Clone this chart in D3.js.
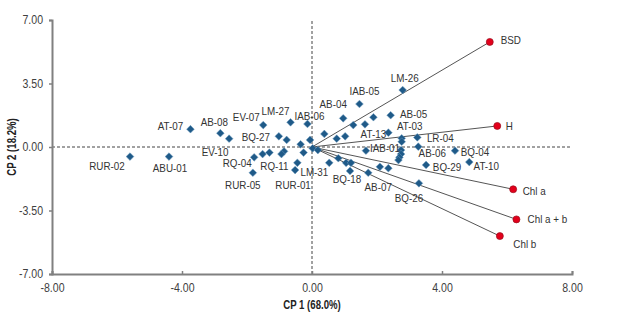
<!DOCTYPE html>
<html lang="en">
<head>
    <title>PCA biplot - CP 1 vs CP 2</title>
    <style>
        body { margin: 0; background: #fff; }
        text { font-family: "Liberation Sans", Arial, sans-serif; }
    </style>
    <script src='https://d3js.org/d3.v7.min.js'></script>
</head>
<body>
    <script>

        // DATA //

        // genotypes (scores) - "" means the point is not labelled
        const names = [
            "RUR-02", "ABU-01", "AT-07", "AB-08", "EV-10", "EV-07", "LM-27", "IAB-06", "", "AB-04",
            "", "", "", "BQ-27", "", "", "", "", "", "",
            "", "RQ-11", "", "", "RQ-04", "RUR-05", "LM-31", "RUR-01", "", "",
            "", "", "BQ-18", "AB-07", "IAB-05", "", "AB-05", "", "AT-13", "AT-03",
            "", "LR-04", "AB-06", "", "IAB-01", "", "", "", "BQ-04", "AT-10",
            "BQ-29", "", "", "BQ-26", "LM-26"
        ];
        const cp1 = [
            -5.60, -4.40, -3.74, -2.82, -2.55, -1.50, -0.66, -0.14, 0.38, 0.96,
            1.27, 1.02, 0.76, -1.02, -0.78, -0.35, -0.06, 0.02, 0.18, -0.26,
            -0.86, -0.94, -1.31, -1.52, -1.78, -1.82, -0.45, -0.52, 0.53, 0.81,
            1.05, 1.20, 1.17, 1.73, 1.46, 1.89, 2.42, 1.63, 2.35, 2.76,
            2.76, 3.24, 3.27, 1.66, 2.74, 2.74, 2.69, 2.66, 4.40, 4.84,
            3.51, 2.09, 2.35, 3.29, 2.79
        ];
        const cp2 = [
            -0.53, -0.53, 0.98, 0.76, 0.46, 1.21, 1.36, 1.27, 0.72, 1.58,
            1.21, 0.59, 0.46, 0.59, 0.39, 0.15, 0.39, -0.07, -0.17, -0.31,
            -0.24, -0.39, -0.31, -0.39, -0.57, -1.42, -0.87, -1.27, -0.87, -0.62,
            -0.87, -0.87, -1.32, -1.42, 2.37, 1.64, 1.75, 1.25, 0.79, 0.48,
            0.29, 0.53, 0.02, -0.20, -0.17, -0.39, -0.57, -0.72, -0.20, -0.83,
            -0.99, -1.09, -1.17, -2.00, 3.14
        ];

        // variables (loadings)
        const varNames = ["BSD", "H", "Chl a", "Chl a + b", "Chl b"];
        const varCp1   = [5.47, 5.70, 6.19, 6.29, 5.78];
        const varCp2   = [5.79, 1.16, -2.33, -3.99, -4.91];

        // tick values
        const xTicks = [-8, -4, 0, 4, 8];
        const yTicks = [-7, -3.5, 0, 3.5, 7];

        // label placement (pixel offset of the text centre from its mark)
        const labelOffset = {
            "RUR-02": [-23, 9], "ABU-01": [1, 11], "AT-07": [-20, -3], "AB-08": [-6, -11],
            "EV-10": [-14, 13], "EV-07": [-17, -8], "LM-27": [-15, -11], "IAB-06": [2, -8],
            "BQ-27": [-23, 1], "RQ-04": [-17, 6], "RQ-11": [-7, 12], "RUR-05": [-10, 12],
            "RUR-01": [-2, 15], "LM-31": [17, 9], "AB-04": [-10, -14], "LM-26": [2, -12],
            "IAB-05": [5, -13], "AB-05": [23, -1], "AT-03": [8, -12], "AT-13": [-15, 1],
            "LR-04": [23, 1], "IAB-01": [-16, -2], "AB-06": [14, 6], "BQ-29": [21, 2],
            "BQ-18": [-3, 8], "AB-07": [10, 14], "BQ-26": [-10, 15], "BQ-04": [20, 1],
            "AT-10": [17, 4], "BSD": [21, -2], "H": [12, 0], "Chl a": [21, 2],
            "Chl a + b": [31, 0], "Chl b": [25, 8]
        };

        const scores = names.map((n, i) => ({ name: n, x: cp1[i], y: cp2[i] }));
        const loads  = varNames.map((n, i) => ({ name: n, x: varCp1[i], y: varCp2[i] }));

        // Set Dimensions
        const width  = 624;
        const height = 317;
        const xLeft = 52, xRight = 572, yTop = 20, yBottom = 274;

        const svg = d3.select("body")
                    .append("svg")
                    .attr("width", width)
                    .attr("height", height);

        const x = d3.scaleLinear().domain([-8, 8]).range([xLeft, xRight]);
        const y = d3.scaleLinear().domain([-7, 7]).range([yBottom, yTop]);

        const fmt = d => d.toFixed(2);

        // squeeze text horizontally to mimic the narrow font of the original
        function narrow(sel, k) {
            sel.each(function () {
                const w = this.getComputedTextLength();
                d3.select(this).attr("textLength", w * k).attr("lengthAdjust", "spacingAndGlyphs");
            });
        }

        // zero reference lines (dashed)
        svg.append("line")
            .attr("x1", x(-8)).attr("x2", x(8))
            .attr("y1", y(0)).attr("y2", y(0))
            .attr("stroke", "#444").attr("stroke-width", 1)
            .attr("stroke-dasharray", "3,2");
        svg.append("line")
            .attr("x1", x(0)).attr("x2", x(0))
            .attr("y1", y(-7)).attr("y2", y(7))
            .attr("stroke", "#444").attr("stroke-width", 1)
            .attr("stroke-dasharray", "3,2");

        // bottom axis
        const xAxis = svg.append("g")
            .attr("transform", `translate(0,${yBottom})`)
            .call(d3.axisBottom(x).tickValues(xTicks).tickFormat(fmt).tickSizeOuter(0).tickSize(-3).tickPadding(9));

        // left axis
        const yAxis = svg.append("g")
            .attr("transform", `translate(${xLeft},0)`)
            .call(d3.axisLeft(y).tickValues(yTicks).tickFormat(fmt).tickSizeOuter(0).tickSize(3).tickPadding(6));

        [xAxis, yAxis].forEach(g => {
            g.select(".domain").attr("stroke", "#808080").attr("stroke-width", 2);
            g.selectAll(".tick line").attr("stroke", "#808080").attr("stroke-width", 1.5);
            g.selectAll(".tick text").attr("fill", "#404040").attr("font-size", 12)
                .attr("font-family", "'Liberation Sans', Arial, sans-serif")
                .call(narrow, 0.88);
        });

        // axis titles
        svg.append("text")
            .attr("x", x(0)).attr("y", 309)
            .attr("text-anchor", "middle")
            .attr("font-size", 12).attr("font-weight", "bold").attr("fill", "#222")
            .text("CP 1 (68.0%)")
            .call(narrow, 0.8);
        svg.append("text")
            .attr("transform", `translate(16,${y(0)}) rotate(-90)`)
            .attr("text-anchor", "middle")
            .attr("font-size", 12).attr("font-weight", "bold").attr("fill", "#222")
            .text("CP 2 (18.2%)")
            .call(narrow, 0.8);

        // vectors from the origin to each variable
        svg.selectAll(".vec")
            .data(loads)
            .enter()
            .append("line")
            .attr("class", "vec")
            .attr("x1", x(0)).attr("y1", y(0))
            .attr("x2", d => x(d.x)).attr("y2", d => y(d.y))
            .attr("stroke", "#555").attr("stroke-width", 1);

        // diamonds for the genotypes
        svg.selectAll(".dot")
            .data(scores)
            .enter()
            .append("path")
            .attr("class", "dot")
            .attr("d", d3.symbol().type(d3.symbolDiamond2).size(38))
            .attr("transform", d => `translate(${x(d.x)},${y(d.y)})`)
            .attr("fill", "#1f5a88")
            .attr("stroke", "#6f9cc0").attr("stroke-width", 0.5);

        // red circles for the variables
        svg.selectAll(".var")
            .data(loads)
            .enter()
            .append("circle")
            .attr("class", "var")
            .attr("cx", d => x(d.x)).attr("cy", d => y(d.y))
            .attr("r", 3.5)
            .attr("fill", "#e3001b")
            .attr("stroke", "#9a1020").attr("stroke-width", 0.7);

        // labels
        const labelled = scores.filter(d => d.name !== "").concat(loads);
        svg.selectAll(".lab")
            .data(labelled)
            .enter()
            .append("text")
            .attr("class", "lab")
            .attr("x", d => x(d.x) + labelOffset[d.name][0])
            .attr("y", d => y(d.y) + labelOffset[d.name][1])
            .attr("dy", "0.35em")
            .attr("text-anchor", "middle")
            .attr("font-size", 11.5)
            .attr("fill", "#333")
            .text(d => d.name)
            .call(narrow, 0.855);

    </script>
</body>
</html>
